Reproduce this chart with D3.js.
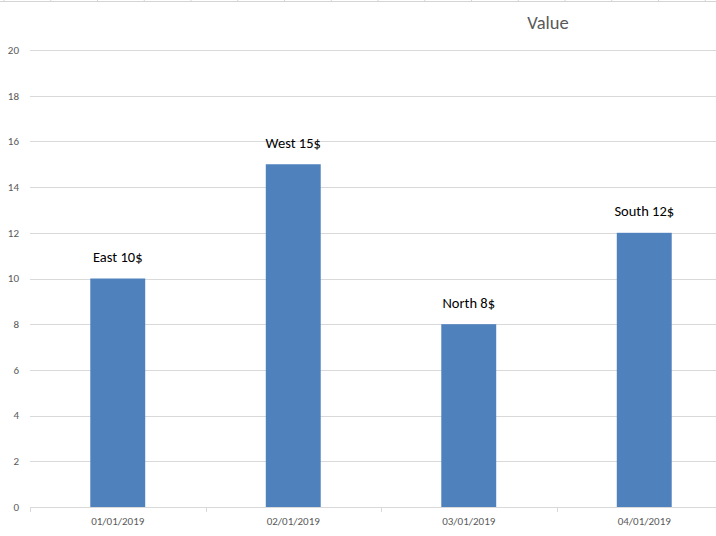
<!DOCTYPE html>
<html>
<head>
<meta charset="utf-8">
<script src="https://cdn.jsdelivr.net/npm/d3@7/dist/d3.min.js"></script>
<style>
  html, body { margin: 0; padding: 0; background: #fff; }
  svg { display: block; }
</style>
</head>
<body>
<div id="chart"></div>
<script>
const categories = ["01/01/2019", "02/01/2019", "03/01/2019", "04/01/2019"];
const regions = ["East", "West", "North", "South"];
const values = [10, 15, 8, 12];
const yTicks = [0, 2, 4, 6, 8, 10, 12, 14, 16, 18, 20];
const title = "Value";

(function () {
const W = 716, H = 536;
const svg = d3.select("#chart").append("svg").attr("width", W).attr("height", H);
const font = "Calibri, Carlito, Lato, 'Open Sans', sans-serif";

// faint sheet grid at the very top edge
const topGrid = d3.range(4, W, 46.75);
svg.append("line").attr("x1", 0).attr("x2", W).attr("y1", 1.5).attr("y2", 1.5)
  .attr("stroke", "#d4d4d4").attr("stroke-width", 1);
svg.selectAll(".tg").data(topGrid).enter().append("line")
  .attr("x1", d => d).attr("x2", d => d).attr("y1", 0).attr("y2", 2)
  .attr("stroke", "#d4d4d4");

const pLeft = 30, pRight = 732, pTop = 50, pBottom = 507;
const x = d3.scaleBand().domain(categories).range([pLeft, pRight]).paddingInner(0.687).paddingOuter(0.3435);
const y = d3.scaleLinear().domain([0, 20]).range([pBottom, pTop]);

// gridlines
svg.append("g").selectAll("line").data(yTicks.filter(d => d > 0)).enter().append("line")
  .attr("x1", pLeft).attr("x2", W).attr("y1", d => Math.round(y(d)) + 0.5).attr("y2", d => Math.round(y(d)) + 0.5)
  .attr("stroke", "#d9d9d9").attr("stroke-width", 1);

// y axis labels
svg.append("g").selectAll("text").data(yTicks).enter().append("text")
  .attr("x", 19).attr("y", d => y(d)).attr("dy", "0.35em")
  .attr("text-anchor", "end").attr("font-family", font).attr("font-size", 11)
  .attr("fill", "#595959").text(d => d);

// bars
svg.append("g").selectAll("rect").data(values).enter().append("rect")
  .attr("x", (d, i) => x(categories[i])).attr("width", x.bandwidth())
  .attr("y", d => y(d)).attr("height", d => y(0) - y(d))
  .attr("fill", "#4f81bd");

// x axis line and ticks
const step = x.step();
svg.append("line").attr("x1", pLeft).attr("x2", W).attr("y1", pBottom + 0.5).attr("y2", pBottom + 0.5)
  .attr("stroke", "#d9d9d9");
const tickXs = categories.map((c, i) => pLeft + i * step);
svg.append("g").selectAll("line").data(tickXs).enter().append("line")
  .attr("x1", d => Math.round(d) + 0.5).attr("x2", d => Math.round(d) + 0.5)
  .attr("y1", pBottom).attr("y2", pBottom + 5).attr("stroke", "#d9d9d9");

// category labels
svg.append("g").selectAll("text").data(categories).enter().append("text")
  .attr("x", d => x(d) + x.bandwidth() / 2).attr("y", 521).attr("dy", "0.35em")
  .attr("text-anchor", "middle").attr("font-family", font).attr("font-size", 11)
  .attr("fill", "#595959").text(d => d);

// data labels
svg.append("g").selectAll("text").data(values).enter().append("text")
  .attr("x", (d, i) => x(categories[i]) + x.bandwidth() / 2)
  .attr("y", d => y(d) - 21.5).attr("dy", "0.35em")
  .attr("text-anchor", "middle").attr("font-family", font).attr("font-size", 14.5)
  .attr("fill", "#000").text((d, i) => regions[i] + " " + d + "$");

// title
svg.append("text").attr("x", 548).attr("y", 23).attr("dy", "0.35em")
  .attr("text-anchor", "middle").attr("font-family", font).attr("font-size", 18.5)
  .attr("fill", "#595959").text(title);
})();
</script>
</body>
</html>
